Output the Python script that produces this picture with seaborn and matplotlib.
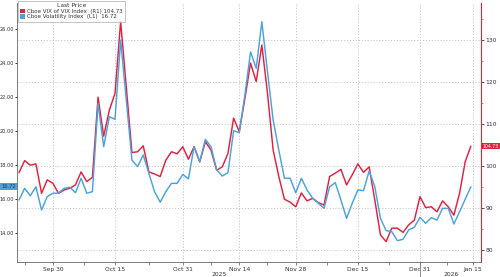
import matplotlib
matplotlib.use("Agg")
import matplotlib.pyplot as plt
import matplotlib.transforms as mtransforms
from matplotlib.patches import Patch
import numpy as np
import pandas as pd
import seaborn as sns

# ---- data (trading-day index) ----
vix = [15.94, 16.63, 16.19, 16.72, 15.35, 16.14, 16.34, 16.34, 16.63, 16.69,
       16.37, 17.22, 16.34, 16.43, 21.63, 19.08, 20.84, 20.69, 25.35, 21.82,
       18.29, 17.90, 18.59, 17.51, 16.43, 15.81, 16.43, 16.92, 16.92, 17.45,
       17.18, 19.08, 18.19, 19.51, 19.08, 17.71, 17.35, 17.55, 20.02, 19.90,
       22.12, 24.66, 23.69, 26.43, 23.47, 20.65, 18.88, 17.22, 17.22, 16.37,
       17.22, 16.53, 16.04, 15.75, 15.45, 16.72, 16.96, 15.94, 14.86, 15.75,
       16.53, 16.49, 17.65, 16.72, 14.86, 14.14, 14.08, 13.55, 13.63, 14.18,
       14.34, 14.92, 14.57, 14.90, 14.76, 15.45, 15.45, 14.53, 15.25, 15.98,
       16.72]
vvix = [98.4, 101.3, 100.2, 100.5, 93.5, 96.7, 95.9, 93.5, 94.3, 94.7,
        95.5, 98.6, 96.3, 97.3, 116.4, 107.1, 113.3, 117.3, 134.4, 118.8,
        103.2, 103.4, 104.8, 98.6, 98.1, 97.5, 101.4, 103.4, 102.9, 104.6,
        101.6, 104.6, 101.0, 105.8, 103.8, 99.0, 99.8, 103.0, 111.4, 108.2,
        116.1, 124.5, 120.1, 128.8, 117.3, 103.8, 97.5, 92.1, 91.4, 90.3,
        93.6, 91.7, 92.3, 91.3, 90.7, 97.5, 98.3, 99.2, 95.5, 97.9,
        100.5, 98.5, 99.8, 91.9, 83.6, 82.0, 85.2, 85.2, 84.2, 86.0,
        87.1, 92.7, 90.1, 90.3, 89.1, 91.7, 90.3, 88.3, 93.5, 101.0,
        104.73]
x_tick_pos = [6, 17, 29, 39, 49, 60, 71, 80.4]
x_tick_labels = ["Sep 30", "Oct 15", "Oct 31", "Nov 14", "Nov 28", "Dec 15", "Dec 31", "Jan 15"]
year_labels = ["2025", "2026"]
year_pos = [35.4, 76.5]
left_ticks = [14, 16, 18, 20, 22, 24, 26]
right_ticks = [80, 90, 100, 110, 120, 130]
legend_title = "Last Price"
legend_labels = ["Cboe VIX of VIX Index  (R1) 104.73", "Cboe Volatility Index  (L1)  16.72"]

RED = "#e3213f"
BLUE = "#4ba3de"
GRID = "#c8c8c8"
TXT = "#333333"

df = pd.DataFrame({"idx": np.arange(len(vix)), "vix": vix, "vvix": vvix})

sns.set_style("white")
plt.rcParams["font.family"] = ["DejaVu Sans"]

fig = plt.figure(figsize=(5.0, 2.77), dpi=100)
ax = fig.add_axes([0.034, 0.054, 0.928, 0.935])
ax2 = ax.twinx()
# blue (left axis) drawn on top of red
ax.set_zorder(ax2.get_zorder() + 1)
ax.patch.set_visible(False)

sns.lineplot(data=df, x="idx", y="vvix", ax=ax2, color=RED, linewidth=1.05)
sns.lineplot(data=df, x="idx", y="vix", ax=ax, color=BLUE, linewidth=1.05)

ax.set_xlim(-0.35, 81.8)
ax.set_ylim(12.29, 27.53)
ax2.set_ylim(77.14, 138.8)

ax.set_xlabel("")
ax.set_ylabel("")
ax2.set_ylabel("")

# ticks
ax.set_xticks(x_tick_pos)
ax.set_xticklabels(x_tick_labels, fontsize=4.3, color=TXT)
minor_x = [1.0] + [(a + b) / 2 for a, b in zip(x_tick_pos[:-1], x_tick_pos[1:])]
ax.set_xticks(minor_x, minor=True)
ax.tick_params(axis="x", which="both", direction="out", length=2.0, width=0.5,
               color="#555555", pad=1.5, bottom=True)

ax.set_yticks(left_ticks)
ax.set_yticklabels([f"{v:.2f}" for v in left_ticks], fontsize=3.6, color=TXT)
ax.tick_params(axis="y", which="both", direction="out", length=1.5, width=0.7,
               color="#333333", pad=0.6, left=True)

ax2.set_yticks(right_ticks)
ax2.set_yticklabels([str(v) for v in right_ticks], fontsize=4.3, color=TXT)
ax2.set_yticks([85, 95, 105, 115, 125, 135], minor=True)
ax2.tick_params(axis="y", which="major", direction="out", length=2.0, width=0.6,
                color="#333333", pad=1.0, right=True)
ax2.tick_params(axis="y", which="minor", direction="out", length=1.2, width=0.5,
                color="#777777", right=True)

# grids: vertical from x ticks, horizontal from right axis
for xp in x_tick_pos:
    ax2.axvline(xp, color=GRID, linestyle=(0, (1.2, 1.8)), linewidth=0.7, zorder=0)
for yv in right_ticks:
    ax2.axhline(yv, color=GRID, linestyle=(0, (1.2, 1.8)), linewidth=0.7, zorder=0)

# spines
for a in (ax, ax2):
    a.spines["top"].set_visible(False)
ax.spines["right"].set_visible(False)
ax2.spines["left"].set_visible(False)
ax2.spines["bottom"].set_visible(False)
ax2.spines["right"].set_color(RED)
ax2.spines["right"].set_linewidth(0.8)
ax.spines["left"].set_color("#666666")
ax.spines["left"].set_linewidth(0.6)
ax.spines["bottom"].set_color("#666666")
ax.spines["bottom"].set_linewidth(0.6)

# year labels + separator
trans = mtransforms.blended_transform_factory(ax.transData, ax.transAxes)
for lab, xp in zip(year_labels, year_pos):
    ax.text(xp, -0.047, lab, transform=trans, fontsize=4.3, color=TXT,
            ha="center", va="center", clip_on=False)
ax.plot([71, 71], [0, -0.058], transform=trans, color="#777777", linewidth=0.6,
        clip_on=False)

# value tags
tr_l = mtransforms.blended_transform_factory(ax.transAxes, ax.transData)
ax.text(-0.002, vix[-1], f"{vix[-1]:.2f}", transform=tr_l, fontsize=3.7, color="#1a3b73",
        ha="right", va="center",
        bbox=dict(boxstyle="square,pad=0.2", fc=BLUE, ec="none"), clip_on=False)
tr_r = mtransforms.blended_transform_factory(ax2.transAxes, ax2.transData)
ax2.text(1.004, vvix[-1], f"{vvix[-1]:.2f}", transform=tr_r, fontsize=3.3, color="white",
         ha="left", va="center",
         bbox=dict(boxstyle="square,pad=0.15", fc=RED, ec="none"), clip_on=False)

# legend
handles = [Patch(facecolor=RED, edgecolor="none"), Patch(facecolor=BLUE, edgecolor="none")]
leg = ax.legend(handles, legend_labels, title=legend_title, loc="upper left",
                bbox_to_anchor=(0.0, 1.012), fontsize=4.0, title_fontsize=4.3,
                frameon=True, fancybox=False, handlelength=0.8, handleheight=0.8,
                handletextpad=0.4, borderpad=0.4, labelspacing=0.1, borderaxespad=0.2)
leg.get_frame().set_edgecolor("#aaaaaa")
leg.get_frame().set_linewidth(0.6)
leg.set_zorder(10)
leg.get_title().set_color(TXT)
for t in leg.get_texts():
    t.set_color(TXT)

fig.savefig("out.png", dpi=100, facecolor="white")
